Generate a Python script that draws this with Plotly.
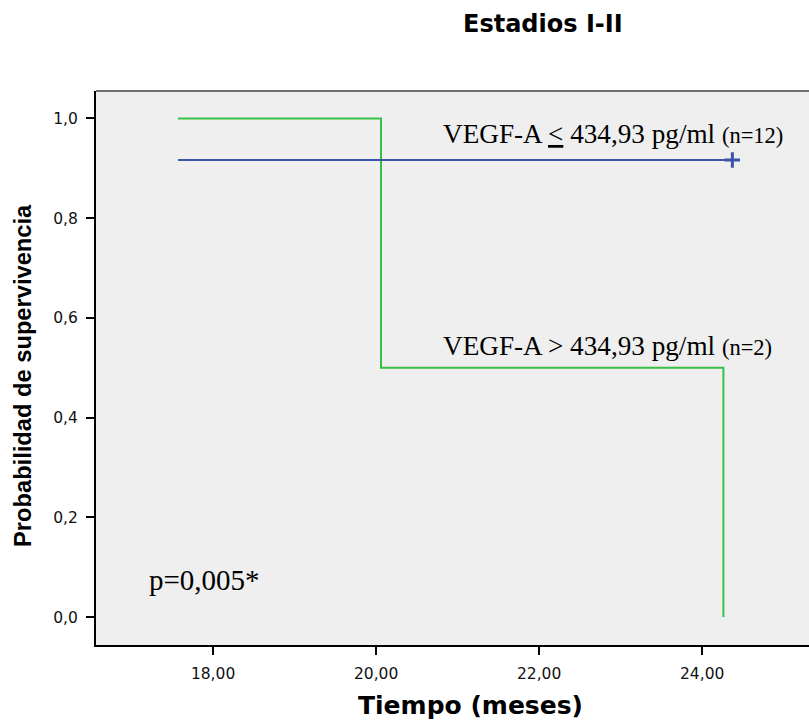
import plotly.graph_objects as go

# Data
grp_high_time = [17.57, 20.06, 24.26]
grp_high_surv = [1.0, 0.5, 0.0]
grp_low_time = [17.57, 24.37]
grp_low_surv = [0.9167, 0.9167]
censor_time = [24.37]
censor_surv = [0.9167]

x_ticks = [18, 20, 22, 24]
x_ticklabels = ["18,00", "20,00", "22,00", "24,00"]
y_ticks = [0.0, 0.2, 0.4, 0.6, 0.8, 1.0]
y_ticklabels = ["0,0", "0,2", "0,4", "0,6", "0,8", "1,0"]

GREEN = "#38c046"
BLUE = "#3c55a9"
SANS = "DejaVu Sans, Verdana, sans-serif"
LSANS = "Liberation Sans, Arial, sans-serif"
SERIF = "Liberation Serif, Times New Roman, serif"

L, T, W, H = 96, 91, 713, 554  # plot area in pixels


def px(xp):
    return (xp - L) / W


def py(yp):
    return (T + H - yp) / H


fig = go.Figure()
fig.add_trace(go.Scatter(x=grp_high_time, y=grp_high_surv, mode="lines",
                         line=dict(color=GREEN, width=2, shape="hv"), showlegend=False))
fig.add_trace(go.Scatter(x=grp_low_time, y=grp_low_surv, mode="lines",
                         line=dict(color=BLUE, width=2, shape="hv"), showlegend=False))
fig.add_trace(go.Scatter(x=censor_time, y=censor_surv, mode="markers",
                         marker=dict(symbol="cross-thin", size=11, line=dict(color=BLUE, width=3)),
                         showlegend=False))

fig.update_layout(
    width=809, height=724,
    margin=dict(l=L, r=809 - L - W, t=T, b=724 - T - H),
    paper_bgcolor="white",
    plot_bgcolor="#efefef",
    showlegend=False,
    xaxis=dict(range=[16.564, 25.31], tickvals=x_ticks, ticktext=x_ticklabels,
               ticks="outside", ticklen=8, tickwidth=2, tickcolor="black",
               ticklabelstandoff=5,
               showgrid=False, zeroline=False, showline=True, linecolor="black", linewidth=2,
               tickfont=dict(family=SANS, size=15.5, color="#111")),
    yaxis=dict(range=[-0.056, 1.055], tickvals=y_ticks, ticktext=y_ticklabels,
               ticks="outside", ticklen=8, tickwidth=2, tickcolor="black",
               ticklabelstandoff=5,
               showgrid=False, zeroline=False, showline=True, linecolor="black", linewidth=2,
               tickfont=dict(family=SANS, size=15.5, color="#111")),
)

# top border
fig.add_shape(type="line", xref="paper", yref="paper", x0=0, x1=1, y0=1, y1=1,
              line=dict(color="#444", width=1.5))

fig.add_annotation(text="<b>Estadios I-II</b>", xref="paper", yref="paper",
                   x=px(543), y=py(24), xanchor="center", yanchor="middle", showarrow=False,
                   font=dict(family=SANS, size=24, color="black"))
fig.add_annotation(text="<b>Tiempo (meses)</b>", xref="paper", yref="paper",
                   x=px(470.5), y=py(705), xanchor="center", yanchor="middle", showarrow=False,
                   font=dict(family=SANS, size=25, color="black"))
fig.add_annotation(text="<b>Probabilidad de supervivencia</b>", xref="paper", yref="paper",
                   x=px(23), y=py(376), textangle=-90,
                   xanchor="center", yanchor="middle", showarrow=False,
                   font=dict(family=LSANS, size=23.7, color="black"))

fig.add_annotation(text="VEGF-A <u>&lt;</u> 434,93 pg/ml <span style='font-size:22.5px'>(n=12)</span>",
                   xref="paper", yref="paper", x=px(441), y=py(134),
                   xanchor="left", yanchor="middle", showarrow=False,
                   font=dict(family=SERIF, size=27.2, color="black"))
fig.add_annotation(text="VEGF-A &gt; 434,93 pg/ml <span style='font-size:22.5px'>(n=2)</span>",
                   xref="paper", yref="paper", x=px(441), y=py(345.5),
                   xanchor="left", yanchor="middle", showarrow=False,
                   font=dict(family=SERIF, size=27.2, color="black"))
fig.add_annotation(text="p=0,005*", xref="paper", yref="paper", x=px(147), y=py(580),
                   xanchor="left", yanchor="middle", showarrow=False,
                   font=dict(family=SERIF, size=29, color="black"))

fig.write_html("out.html", config={"displayModeBar": False},
               post_script="document.body.style.margin='0';document.body.style.overflow='hidden';")
